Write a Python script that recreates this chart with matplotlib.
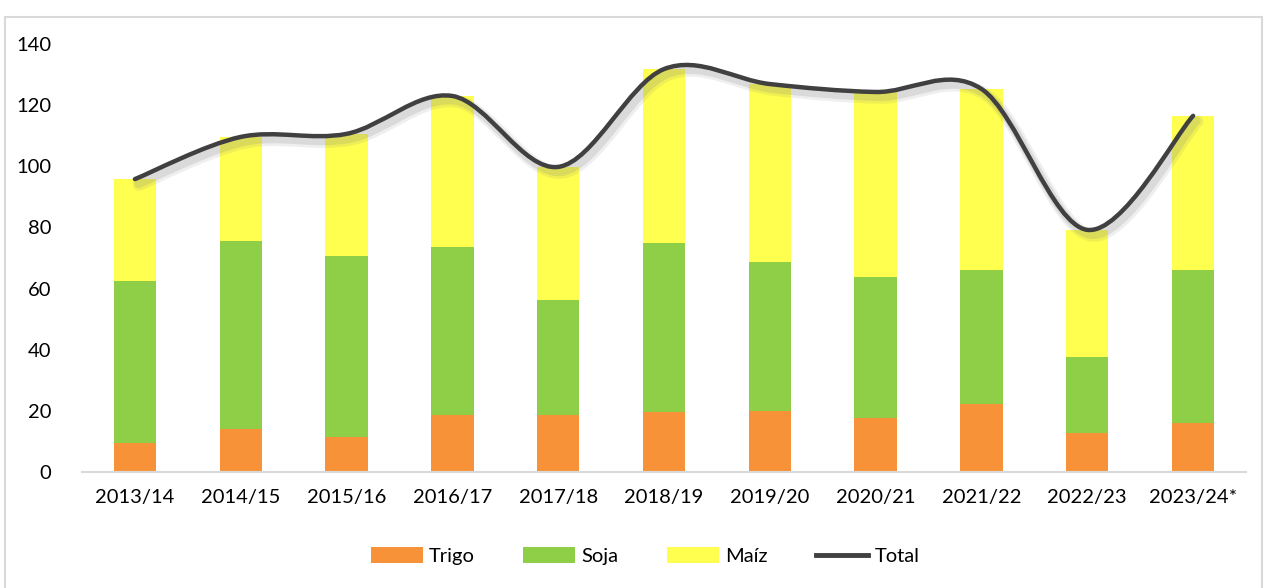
import numpy as np
import matplotlib
matplotlib.use("Agg")
import matplotlib.pyplot as plt
from matplotlib.path import Path
from matplotlib.patches import PathPatch, Rectangle
from matplotlib.lines import Line2D
import matplotlib.patheffects as pe

plt.rcParams['font.family'] = ['Lato', 'DejaVu Sans']

campaigns = ["2013/14", "2014/15", "2015/16", "2016/17", "2017/18", "2018/19",
             "2019/20", "2020/21", "2021/22", "2022/23", "2023/24*"]
trigo = [9.5, 14.1, 11.4, 18.6, 18.6, 19.6, 20.0, 17.7, 22.2, 12.8, 16.0]
soja = [53.0, 61.5, 59.3, 55.0, 37.7, 55.3, 48.7, 46.1, 43.9, 24.8, 50.1]
maiz = [33.3, 34.0, 39.9, 49.4, 43.5, 56.9, 58.2, 60.5, 59.2, 41.6, 50.4]
total = [t + s + m for t, s, m in zip(trigo, soja, maiz)]

c_trigo = "#F79239"
c_soja = "#8FCF48"
c_maiz = "#FFFF4F"
c_total = "#404040"

fig = plt.figure(figsize=(12.67, 5.88), dpi=100)
ax = fig.add_axes([82 / 1267, (588 - 472) / 588, (1246 - 82) / 1267, (472 - 44) / 588])

# outer chart border
fig.patches.append(Rectangle((5 / 1267, -0.01), (1262 - 5) / 1267, (588 - 17) / 588 + 0.01,
                             transform=fig.transFigure, fill=False,
                             edgecolor="#D9D9D9", linewidth=1.5, zorder=0))

x = np.arange(len(campaigns))
w = 0.4
ax.bar(x, trigo, w, color=c_trigo, label="Trigo", zorder=2)
ax.bar(x, soja, w, bottom=trigo, color=c_soja, label="Soja", zorder=2)
bottom2 = [t + s for t, s in zip(trigo, soja)]
ax.bar(x, maiz, w, bottom=bottom2, color=c_maiz, label="Maíz", zorder=2)

# smoothed total line (Catmull-Rom as Bezier)
pts = np.column_stack([x, total]).astype(float)
verts = [tuple(pts[0])]
codes = [Path.MOVETO]
n = len(pts)
for i in range(n - 1):
    p0 = pts[i - 1] if i > 0 else pts[i]
    p1 = pts[i]
    p2 = pts[i + 1]
    p3 = pts[i + 2] if i + 2 < n else pts[i + 1]
    c1 = p1 + (p2 - p0) / 6.0
    c2 = p2 - (p3 - p1) / 6.0
    verts += [tuple(c1), tuple(c2), tuple(p2)]
    codes += [Path.CURVE4] * 3
path = Path(verts, codes)
patch = PathPatch(path, fill=False, edgecolor=c_total, linewidth=3.2, zorder=4,
                  capstyle="round", joinstyle="round")
patch.set_path_effects([
    pe.SimpleLineShadow(offset=(3, -4), shadow_color="#808080", alpha=0.12, linewidth=9),
    pe.SimpleLineShadow(offset=(2.5, -3.5), shadow_color="#808080", alpha=0.18, linewidth=6),
    pe.Normal()])
ax.add_patch(patch)

ax.set_xlim(-0.5, len(campaigns) - 0.5)
ax.set_ylim(0, 140)
ax.set_yticks(np.arange(0, 141, 20))
ax.set_xticks(x)
ax.set_xticklabels(campaigns)
ax.tick_params(axis="both", length=0, labelsize=14.5, colors="black")
ax.tick_params(axis="x", pad=12)
ax.tick_params(axis="y", pad=22)
for s in ["top", "right", "left"]:
    ax.spines[s].set_visible(False)
ax.spines["bottom"].set_color("#D9D9D9")
ax.spines["bottom"].set_linewidth(1.5)

handles, labels = ax.get_legend_handles_labels()
handles.append(Line2D([0], [0], color=c_total, linewidth=3.5))
labels.append("Total")
fig.legend(handles, labels, loc="center", bbox_to_anchor=(645 / 1267, (588 - 556) / 588),
           ncol=4, frameon=False, fontsize=14.5, handlelength=2.6, handleheight=0.8,
           handletextpad=0.3, columnspacing=2.4)

fig.savefig("out.png", dpi=100)
